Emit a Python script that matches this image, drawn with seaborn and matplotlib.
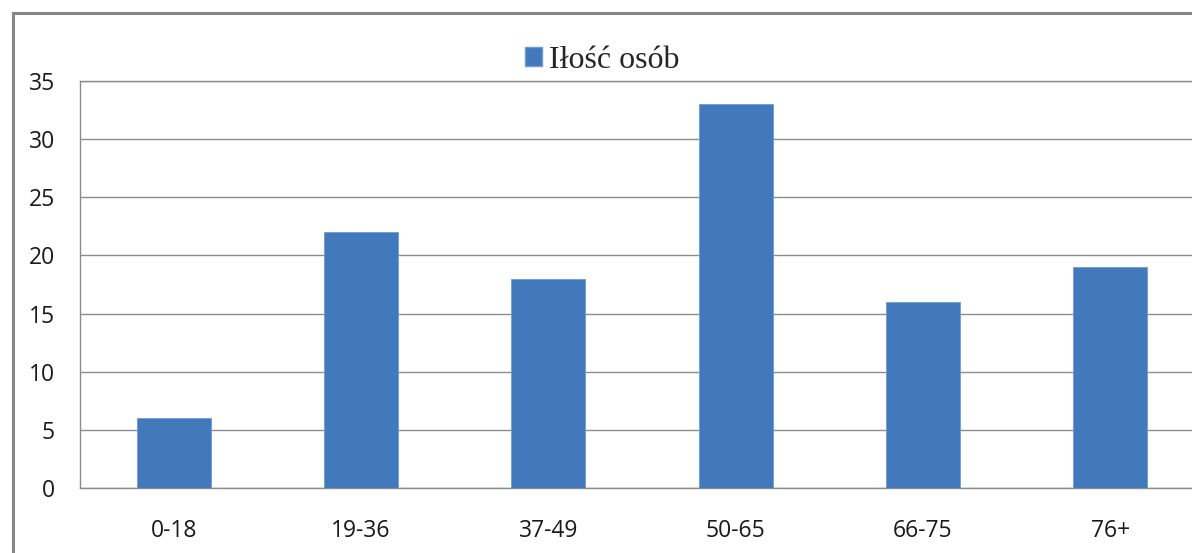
import matplotlib
matplotlib.use("Agg")
import matplotlib.pyplot as plt
import seaborn as sns
import pandas as pd
from matplotlib.patches import Rectangle

categories = ["0-18", "19-36", "37-49", "50-65", "66-75", "76+"]
values = [6, 22, 18, 33, 16, 19]
series_name = "Iłość osób"
yticks = [0, 5, 10, 15, 20, 25, 30, 35]

sns.set_theme(style="white")
plt.rcParams['font.family'] = ['Open Sans', 'DejaVu Sans']

W, H = 1192, 553
fig = plt.figure(figsize=(W / 100, H / 100), dpi=100)
fig.patch.set_facecolor("white")

# outer chart border
fig.patches.append(Rectangle((13 / W, -0.1), 1.2, (553 - 12) / H + 0.1 - 0.002,
                             transform=fig.transFigure, fill=False,
                             edgecolor="#868686", linewidth=2.2, clip_on=False))

left, right, top, bottom = 80, 1204, 81, 488
ax = fig.add_axes([left / W, (H - bottom) / H, (right - left) / W, (bottom - top) / H])
ax.set_clip_on(False)

df = pd.DataFrame({"cat": categories, "val": values})
sns.barplot(data=df, x="cat", y="val", color="#4279BC", width=0.395,
            saturation=1, ax=ax, zorder=3, edgecolor="#6E9BD0", linewidth=0.6)

ax.set_ylim(0, 35)
ax.set_xlim(-0.5, len(categories) - 0.5)
ax.set_yticks(yticks)
ax.set_yticklabels([str(t) for t in yticks])
ax.yaxis.grid(True, color="#8C8C8C", linewidth=1.0, zorder=0)
ax.set_axisbelow(True)
for s in ax.spines.values():
    s.set_color("#8C8C8C")
    s.set_linewidth(1.0)
ax.spines["right"].set_visible(False)
ax.set_xlabel("")
ax.set_ylabel("")
ax.tick_params(axis="both", length=0, labelsize=16.5, colors="#1a1a1a")
ax.tick_params(axis="y", pad=18)
ax.tick_params(axis="x", pad=22)

# legend
handle = Rectangle((0, 0), 1, 1, facecolor="#4279BC", edgecolor="#6E9BD0")
leg = fig.legend([handle], [series_name], loc="center", bbox_to_anchor=(602 / W, 1 - 60 / H),
                 frameon=False, prop={"family": "Liberation Serif", "size": 23},
                 handlelength=0.55, handleheight=0.55, handletextpad=0.2)

fig.savefig("out.png", dpi=100, facecolor="white")
